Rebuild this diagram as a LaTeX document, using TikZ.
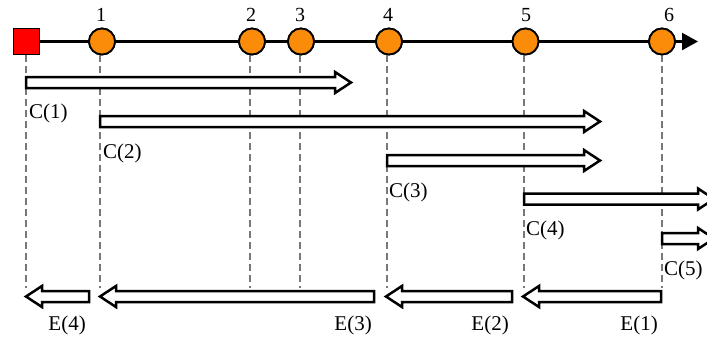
\documentclass[tikz,border=0pt]{standalone}
\usepackage{fontspec}
\setmainfont{Liberation Serif}
\usetikzlibrary{arrows.meta}
\definecolor{evorange}{RGB}{250,140,10}
\definecolor{dashgray}{RGB}{120,120,120}
\tikzset{
  evt/.style={circle,draw=black,line width=1.8pt,fill=evorange,minimum size=26pt,inner sep=0pt},
  startbox/.style={rectangle,draw=black,line width=1.8pt,fill=red,minimum size=26pt,inner sep=0pt},
  num/.style={font=\fontsize{20}{20}\selectfont,inner sep=0pt},
  lab/.style={font=\fontsize{21}{21}\selectfont,inner sep=0pt},
  guide/.style={dashgray,line width=1.5pt,dash pattern=on 7pt off 4pt},
  blk/.style={draw=black,fill=white,line width=2.5pt,line join=miter},
}
% right block arrow: #1 start x, #2 tip x, #3 y
\newcommand{\rblk}[3]{\draw[blk] (#1,#3-5.5) -- (#2-16,#3-5.5) -- (#2-16,#3-10.5) -- (#2,#3) -- (#2-16,#3+10.5) -- (#2-16,#3+5.5) -- (#1,#3+5.5) -- cycle;}
% left block arrow: #1 tail x, #2 tip x, #3 y
\newcommand{\lblk}[3]{\draw[blk] (#1,#3-5.5) -- (#2+16,#3-5.5) -- (#2+16,#3-10.5) -- (#2,#3) -- (#2+16,#3+10.5) -- (#2+16,#3+5.5) -- (#1,#3+5.5) -- cycle;}
\begin{document}
\begin{tikzpicture}[x=1pt,y=-1pt]
\useasboundingbox (0,0) rectangle (707,341);
\clip (0,0) rectangle (707,341);
% guide line ends
\coordinate (g0) at (26,288);
\coordinate (g1) at (100,288);
\coordinate (g2) at (250,288);
\coordinate (g3) at (300,288);
\coordinate (g4) at (387,288);
\coordinate (g5) at (524,288);
\coordinate (g6) at (662,288);
\coordinate (tend) at (698,41.5);
% timeline nodes
\node[startbox] (s) at (26.5,41.5) {};
\node[evt] (e1) at (102,41.5) {};
\node[evt] (e2) at (252,41.5) {};
\node[evt] (e3) at (301,41.5) {};
\node[evt] (e4) at (389,41.5) {};
\node[evt] (e5) at (525.5,41.5) {};
\node[evt] (e6) at (662,41.5) {};
\draw[guide] (s.south -| g0) -- (g0);
\draw[guide] (e1.south -| g1) -- (g1);
\draw[guide] (e2.south -| g2) -- (g2);
\draw[guide] (e3.south -| g3) -- (g3);
\draw[guide] (e4.south -| g4) -- (g4);
\draw[guide] (e5.south -| g5) -- (g5);
\draw[guide] (e6.south -| g6) -- (g6);
\draw[line width=2.2pt,-{Triangle[length=16pt,width=17pt]}] (s.east) -- (tend);
\foreach \n in {e1,e2,e3,e4,e5,e6}{\node[evt] at (\n) {};}
\node[startbox] at (s) {};
% numbers
\node[num] (n1) at (101,15) {1};
\node[num] (n2) at (251,15) {2};
\node[num] (n3) at (300,15) {3};
\node[num] (n4) at (388,15) {4};
\node[num] (n5) at (526,15) {5};
\node[num] (n6) at (669,15) {6};
% C arrows
\rblk{26}{351}{82.5}
\rblk{100}{600}{121.5}
\rblk{387}{600}{160.5}
\rblk{524}{714}{199}
\rblk{662}{714}{238.5}
% E arrows
\lblk{89}{26}{296.5}
\lblk{374}{100}{296.5}
\lblk{512}{386}{296.5}
\lblk{661}{523}{296.5}
% labels
\node[lab,anchor=west] (c1) at (29,113) {C(1)};
\node[lab,anchor=west] (c2) at (103,153) {C(2)};
\node[lab,anchor=west] (c3) at (389,192) {C(3)};
\node[lab,anchor=west] (c4) at (526,230) {C(4)};
\node[lab,anchor=west] (c5) at (664,270) {C(5)};
\node[lab,anchor=east] (l4) at (86,325) {E(4)};
\node[lab,anchor=east] (l3) at (372,325) {E(3)};
\node[lab,anchor=east] (l2) at (509,325) {E(2)};
\node[lab,anchor=east] (l1) at (658,325) {E(1)};
\end{tikzpicture}
\end{document}
